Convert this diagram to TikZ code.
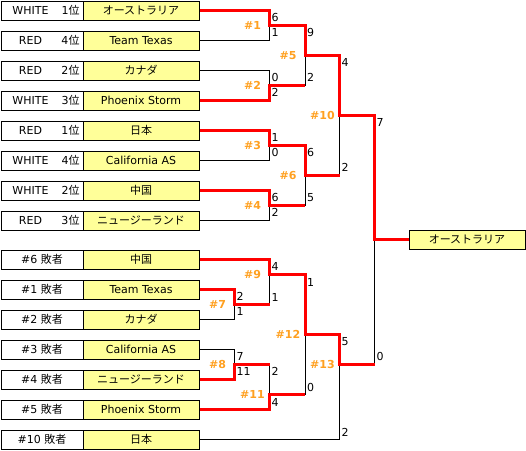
\documentclass[tikz,border=0pt]{standalone}
\usepackage{fontspec}
\setmainfont{DejaVu Sans}
\newfontfamily\jpfont{Noto Sans CJK JP}
\definecolor{cellyellow}{HTML}{FFFF99}
\definecolor{matchorange}{RGB}{255,160,32}
\definecolor{winred}{HTML}{FF0000}
\tikzset{
  lbl/.style={draw=black, line width=1pt, fill=white, minimum width=82pt, minimum height=19pt,
    inner sep=0pt, font=\fontsize{11}{12}\selectfont},
  team/.style={draw=black, line width=1pt, fill=cellyellow, minimum width=116pt, minimum height=19pt,
    inner sep=0pt, font=\fontsize{11}{12}\selectfont},
  score/.style={anchor=west, inner sep=0pt, font=\fontsize{11}{12}\selectfont},
  mlabel/.style={inner sep=0pt, text=matchorange, font=\fontsize{11}{12}\selectfont\bfseries},
  thin/.style={draw=black, line width=1pt},
  win/.style={draw=winred, line width=3pt, line join=miter},
}
\newcommand{\rk}[2]{\makebox[52pt][c]{#1}\makebox[23pt][r]{#2{\jpfont 位}}}
\newcommand{\ls}[1]{#1 {\jpfont 敗者}}
\begin{document}
\begin{tikzpicture}[x=1pt,y=-1pt]
\useasboundingbox (0,0) rectangle (526,450);
% upper bracket entries
\node[lbl] (l1) at (42,10.5) {\rk{WHITE}{1}};
\node[team] (t1) at (141,10.5) {\jpfont オーストラリア};
\node[lbl] (l2) at (42,40.5) {\rk{RED}{4}};
\node[team] (t2) at (141,40.5) {Team Texas};
\node[lbl] (l3) at (42,70.5) {\rk{RED}{2}};
\node[team] (t3) at (141,70.5) {\jpfont カナダ};
\node[lbl] (l4) at (42,100.5) {\rk{WHITE}{3}};
\node[team] (t4) at (141,100.5) {Phoenix Storm};
\node[lbl] (l5) at (42,130.5) {\rk{RED}{1}};
\node[team] (t5) at (141,130.5) {\jpfont 日本};
\node[lbl] (l6) at (42,160.5) {\rk{WHITE}{4}};
\node[team] (t6) at (141,160.5) {California AS};
\node[lbl] (l7) at (42,190.5) {\rk{WHITE}{2}};
\node[team] (t7) at (141,190.5) {\jpfont 中国};
\node[lbl] (l8) at (42,220.5) {\rk{RED}{3}};
\node[team] (t8) at (141,220.5) {\jpfont ニュージーランド};
% lower bracket entries
\node[lbl] (m1) at (42,259.5) {\ls{\#6}};
\node[team] (s1) at (141,259.5) {\jpfont 中国};
\node[lbl] (m2) at (42,289.5) {\ls{\#1}};
\node[team] (s2) at (141,289.5) {Team Texas};
\node[lbl] (m3) at (42,319.5) {\ls{\#2}};
\node[team] (s3) at (141,319.5) {\jpfont カナダ};
\node[lbl] (m4) at (42,349.5) {\ls{\#3}};
\node[team] (s4) at (141,349.5) {California AS};
\node[lbl] (m5) at (42,379.5) {\ls{\#4}};
\node[team] (s5) at (141,379.5) {\jpfont ニュージーランド};
\node[lbl] (m6) at (42,409.5) {\ls{\#5}};
\node[team] (s6) at (141,409.5) {Phoenix Storm};
\node[lbl] (m7) at (42,439.5) {\ls{\#10}};
\node[team] (s7) at (141,439.5) {\jpfont 日本};
% champion
\node[team] (champ) at (467,239.5) {\jpfont オーストラリア};

% junction coordinates
\coordinate (j1) at (269.5,25.5);
\coordinate (j2) at (269.5,85.5);
\coordinate (j3) at (269.5,145.5);
\coordinate (j4) at (269.5,205.5);
\coordinate (j5) at (305,55.5);
\coordinate (j6) at (305,175.5);
\coordinate (j10) at (339.5,115.5);
\coordinate (jf) at (374.5,239.5);
\coordinate (j7) at (234.5,304.5);
\coordinate (j8) at (234.5,364.5);
\coordinate (j9) at (269.5,274.5);
\coordinate (j11) at (269.5,394.5);
\coordinate (j12) at (305,334.5);
\coordinate (j13) at (339.5,364.5);

% losing (black) lines
\draw[thin] (t2.east) -- (j1 |- t2.east) -- (j1);
\draw[thin] (t3.east) -- (j2 |- t3.east) -- (j2);
\draw[thin] (j2 -| j5) -- (j5);
\draw[thin] (t6.east) -- (j3 |- t6.east) -- (j3);
\draw[thin] (t8.east) -- (j4 |- t8.east) -- (j4);
\draw[thin] (j4 -| j6) -- (j6);
\draw[thin] (j6 -| j10) -- (j10);
\draw[thin] (j13 -| jf) -- (jf);
\draw[thin] (s3.east) -- (j7 |- s3.east) -- (j7);
\draw[thin] (j7 -| j9) -- (j9);
\draw[thin] (s4.east) -- (j8 |- s4.east) -- (j8);
\draw[thin] (j8 -| j11) -- (j11);
\draw[thin] (j11 -| j12) -- (j12);
\draw[thin] (s7.east) -- (j13 |- s7.east) -- (j13);

% winning (red) lines
\draw[win] (t1.east) -- (j1 |- t1.east) -- (j1) -- (j1 -| j5) -- (j5) -- (j5 -| j10) -- (j10)
  -- (j10 -| jf) -- (jf) -- (champ.west);
\draw[win] (t4.east) -- (j2 |- t4.east) -- (j2) -- (j2 -| j5);
\draw[win] (t5.east) -- (j3 |- t5.east) -- (j3) -- (j3 -| j6) -- (j6) -- (j6 -| j10);
\draw[win] (t7.east) -- (j4 |- t7.east) -- (j4) -- (j4 -| j6);
\draw[win] (s1.east) -- (j9 |- s1.east) -- (j9) -- (j9 -| j12) -- (j12) -- (j12 -| j13) -- (j13) -- (j13 -| jf);
\draw[win] (s2.east) -- (j7 |- s2.east) -- (j7) -- (j7 -| j9);
\draw[win] (s5.east) -- (j8 |- s5.east) -- (j8) -- (j8 -| j11);
\draw[win] (s6.east) -- (j11 |- s6.east) -- (j11) -- (j11 -| j12);

% match labels
\node[mlabel] (n1) at (252.5,25.5) {\#1};
\node[mlabel] (n2) at (252.5,85.5) {\#2};
\node[mlabel] (n3) at (252.5,145.5) {\#3};
\node[mlabel] (n4) at (252.5,205.5) {\#4};
\node[mlabel] (n5) at (288,55.5) {\#5};
\node[mlabel] (n6) at (288,175.5) {\#6};
\node[mlabel] (n10) at (322.5,115.5) {\#10};
\node[mlabel] (n7) at (217.5,304.5) {\#7};
\node[mlabel] (n8) at (217.5,364.5) {\#8};
\node[mlabel] (n9) at (252.5,274.5) {\#9};
\node[mlabel] (n11) at (252.5,394.5) {\#11};
\node[mlabel] (n12) at (288,334.5) {\#12};
\node[mlabel] (n13) at (322.5,364.5) {\#13};

% scores
\node[score] (c1a) at (271.5,17.5) {6};
\node[score] (c1b) at (271.5,32.5) {1};
\node[score] (c2a) at (271.5,77.5) {0};
\node[score] (c2b) at (271.5,92.5) {2};
\node[score] (c3a) at (271.5,137.5) {1};
\node[score] (c3b) at (271.5,152.5) {0};
\node[score] (c4a) at (271.5,197.5) {6};
\node[score] (c4b) at (271.5,212.5) {2};
\node[score] (c5a) at (307,32.5) {9};
\node[score] (c5b) at (307,77.5) {2};
\node[score] (c6a) at (307,152.5) {6};
\node[score] (c6b) at (307,197.5) {5};
\node[score] (c10a) at (341.5,62.5) {4};
\node[score] (c10b) at (341.5,167.5) {2};
\node[score] (cfa) at (376.5,122.5) {7};
\node[score] (cfb) at (376.5,356.5) {0};
\node[score] (c9a) at (271.5,266.5) {4};
\node[score] (c9b) at (271.5,297) {1};
\node[score] (c7a) at (236.5,296.5) {2};
\node[score] (c7b) at (236.5,311.5) {1};
\node[score] (c12a) at (307,282) {1};
\node[score] (c12b) at (307,387) {0};
\node[score] (c8a) at (236.5,356.5) {7};
\node[score] (c8b) at (236.5,371.5) {11};
\node[score] (c11a) at (271.5,371.5) {2};
\node[score] (c11b) at (271.5,402) {4};
\node[score] (c13a) at (341.5,342) {5};
\node[score] (c13b) at (341.5,432) {2};
\end{tikzpicture}
\end{document}
